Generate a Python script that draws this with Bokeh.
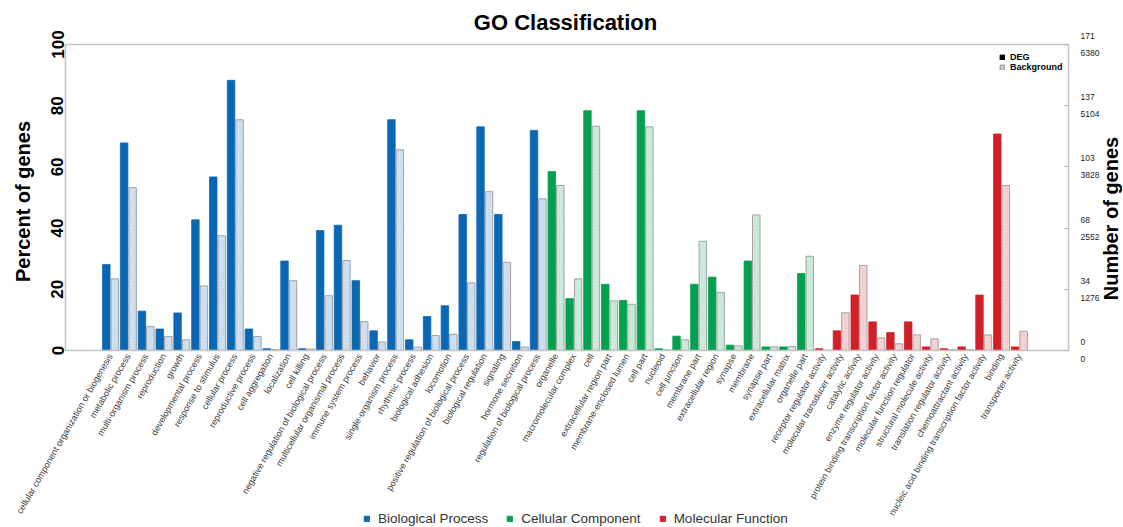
import math
from bokeh.plotting import figure
from bokeh.models import (Range1d, FixedTicker, LinearAxis, ColumnDataSource,
                          Legend, LegendItem)
from bokeh.core.properties import value
from bokeh.embed import file_html
from bokeh.resources import INLINE

# ---- GO terms per ontology -------------------------------------------------
bp_terms = [
    "cellular component organization or biogenesis", "metabolic process",
    "multi-organism process", "reproduction", "growth", "developmental process",
    "response to stimulus", "cellular process", "reproductive process",
    "cell aggregation", "localization", "cell killing",
    "negative regulation of biological process", "multicellular organismal process",
    "immune system process", "behavior", "single-organism process",
    "rhythmic process", "biological adhesion", "locomotion",
    "positive regulation of biological process", "biological regulation",
    "signaling", "hormone secretion", "regulation of biological process",
]
cc_terms = [
    "organelle", "macromolecular complex", "cell", "extracellular region part",
    "membrane-enclosed lumen", "cell part", "nucleoid", "cell junction",
    "membrane part", "extracellular region", "synapse", "membrane",
    "synapse part", "extracellular matrix", "organelle part",
]
mf_terms = [
    "receptor regulator activity", "molecular transducer activity",
    "catalytic activity", "enzyme regulator activity",
    "protein binding transcription factor activity",
    "molecular function regulator", "structural molecule activity",
    "translation regulator activity", "chemoattractant activity",
    "nucleic acid binding transcription factor activity", "binding",
    "transporter activity",
]

# ---- gene counts (DEG set and genome background) ---------------------------
deg_total = 171
bg_total = 6380

bp_deg = [48, 116, 22, 12, 21, 73, 97, 151, 12, 1, 50, 1, 67, 70, 39, 11, 129,
          6, 19, 25, 76, 125, 76, 5, 123]
bp_bg = [1493, 3394, 498, 293, 223, 1346, 2393, 4811, 293, 19, 1455, 32, 1142,
         1876, 600, 179, 4185, 70, 313, 338, 1410, 3311, 1837, 70, 3164]
cc_deg = [100, 29, 134, 37, 28, 134, 1, 8, 37, 41, 3, 50, 2, 2, 43]
cc_bg = [3439, 1493, 4677, 1034, 963, 4664, 13, 223, 2278, 1212, 96, 2826, 77,
         83, 1965]
mf_deg = [1, 11, 31, 16, 10, 16, 2, 1, 2, 31, 121, 2]
mf_bg = [6, 785, 1774, 262, 140, 325, 242, 19, 19, 325, 3439, 402]

pct_ticks = [0, 20, 40, 60, 80, 100]

groups = [
    ("Biological Process", bp_terms, bp_deg, bp_bg, "#0a67b3", "#d9e7f4", "#a9c6e0"),
    ("Cellular Component", cc_terms, cc_deg, cc_bg, "#03a04f", "#d7efe1", "#a6d8bb"),
    ("Molecular Function", mf_terms, mf_deg, mf_bg, "#d02028", "#f8dede", "#e6abab"),
]

FONT = "Liberation Sans"
GRID_GRAY = "#c4c4c4"
all_terms = bp_terms + cc_terms + mf_terms
n_terms = len(all_terms)

# ---- page geometry ---------------------------------------------------------
# The data area fills the whole page; the axes are pinned inside it so the
# title, rotated names, keys and axis titles are never cut.
W, H = 1123, 527
TOP_PX = 44                   # pixel row of 100 %
BASE_PX = 350                 # pixel row of 0 %
FIRST_PX = 110                # pixel column of the first term
STEP_PX = 17.82               # pixels per term
LEFT_PX, RIGHT_PX = 65, 1068  # pixel columns of the two value axes

px_per_pct = (BASE_PX - TOP_PX) / 100


def xdata(px):
    return (px - FIRST_PX) / STEP_PX


def ydata(py):
    return (BASE_PX - py) / px_per_pct


x_left, x_right = xdata(LEFT_PX), xdata(RIGHT_PX)

p = figure(width=W, height=H, output_backend="svg", toolbar_location=None,
           title=None,
           x_range=Range1d(xdata(0), xdata(W)),
           y_range=Range1d(ydata(H), ydata(0)),
           min_border_left=0, min_border_right=0, min_border_top=0,
           min_border_bottom=0, background_fill_color="white",
           border_fill_color="white")
p.grid.visible = False
p.outline_line_color = None

group_renderers = []
start = 0
for name, terms, deg, bg, color, light, hatch in groups:
    xs = list(range(start, start + len(terms)))
    src = ColumnDataSource(dict(
        xd=[x - 0.235 for x in xs],
        xb=[x + 0.24 for x in xs],
        deg_pct=[c / deg_total * 100 for c in deg],
        bg_pct=[c / bg_total * 100 for c in bg],
    ))
    r = p.vbar(x="xd", top="deg_pct", width=0.42, source=src, fill_color=color,
               line_color=color, line_width=0.8)
    p.vbar(x="xb", top="bg_pct", width=0.42, source=src, fill_color=light,
           line_color="#a2a2a2", line_width=1, hatch_pattern="diagonal_cross",
           hatch_color=hatch, hatch_scale=3.5, hatch_weight=0.6)
    group_renderers.append((name, r))
    start += len(terms)

# ---- chart title ------------------------------------------------------------
p.text(x=[xdata(565)], y=[ydata(22)], text=["GO Classification"],
       text_font=value(FONT), text_font_size="22px", text_font_style="bold",
       text_color="black", text_align="center", text_baseline="middle")

# ---- bottom axis on the 0 % baseline, rotated term names -------------------
xa = p.xaxis[0]
xa.fixed_location = 0
xa.bounds = (x_left, x_right)
xa.ticker = FixedTicker(ticks=list(range(n_terms)))
xa.major_label_overrides = {i: t for i, t in enumerate(all_terms)}
xa.major_label_orientation = math.pi / 3
xa.major_label_text_font = FONT
xa.major_label_text_font_size = "9px"
xa.major_label_text_color = "#3a3a3a"
xa.major_label_standoff = 4
xa.major_tick_out = 0
xa.major_tick_in = 0
xa.minor_tick_out = 0
xa.minor_tick_in = 0
xa.axis_line_color = GRID_GRAY
xa.axis_line_width = 1.5

# top edge of the box at 100 %
top_edge = LinearAxis(fixed_location=100, bounds=(x_left, x_right),
                      ticker=FixedTicker(ticks=[], minor_ticks=[]),
                      major_tick_out=0, major_tick_in=0,
                      minor_tick_out=0, minor_tick_in=0,
                      axis_line_color=GRID_GRAY, axis_line_width=1.5)
p.add_layout(top_edge, "above")

# ---- left axis: percent ----------------------------------------------------
ya = p.yaxis[0]
ya.fixed_location = x_left
ya.bounds = (0, 100)
ya.ticker = FixedTicker(ticks=pct_ticks)
ya.major_label_orientation = "vertical"
ya.major_label_text_font = FONT
ya.major_label_text_font_size = "17px"
ya.major_label_text_font_style = "bold"
ya.major_label_text_color = "black"
ya.major_label_standoff = 2
ya.major_tick_out = 0
ya.major_tick_in = 0
ya.minor_tick_out = 0
ya.minor_tick_in = 0
ya.axis_line_color = GRID_GRAY
ya.axis_line_width = 1.5

# ---- right axis: gene numbers (DEG over background) ------------------------
ra = LinearAxis(ticker=FixedTicker(ticks=pct_ticks), bounds=(0, 100),
                fixed_location=x_right)
ra.major_label_overrides = {
    t: f"{round(deg_total * t / 100)}\n{round(bg_total * t / 100)}"
    for t in pct_ticks
}
ra.major_label_text_font = FONT
ra.major_label_text_font_size = "8.5px"
ra.major_label_text_color = "#222222"
ra.major_label_text_line_height = 1.7
ra.major_label_standoff = 12
ra.major_tick_in = 4
ra.major_tick_out = 0
ra.minor_tick_in = 0
ra.minor_tick_out = 0
ra.major_tick_line_color = "#b0b0b0"
ra.axis_line_color = GRID_GRAY
ra.axis_line_width = 1.5
p.add_layout(ra, "right")

# ---- axis titles -----------------------------------------------------------
p.text(x=[xdata(22)], y=[ydata(201)], text=["Percent of genes"],
       angle=math.pi / 2, text_font=value(FONT), text_font_size="20px",
       text_font_style="bold", text_color="black", text_align="center",
       text_baseline="middle")
p.text(x=[xdata(1110)], y=[ydata(218)], text=["Number of genes"],
       angle=math.pi / 2, text_font=value(FONT), text_font_size="20px",
       text_font_style="bold", text_color="black", text_align="center",
       text_baseline="middle")

# ---- legends ---------------------------------------------------------------
key_src = ColumnDataSource(dict(x=[float("nan")], top=[float("nan")]))
deg_key = p.vbar(x="x", top="top", width=0.4, source=key_src,
                 fill_color="black", line_color="black")
bg_key = p.vbar(x="x", top="top", width=0.4, source=key_src,
                fill_color="#d4d4d4", line_color="#9a9a9a",
                hatch_pattern="diagonal_cross", hatch_color="#b4b4b4",
                hatch_scale=3, hatch_weight=0.5)

set_legend = Legend(items=[LegendItem(label="DEG", renderers=[deg_key]),
                           LegendItem(label="Background", renderers=[bg_key])],
                    location=(999, H - 72), orientation="vertical",
                    glyph_width=6, glyph_height=6, label_height=10,
                    label_standoff=5, spacing=0, padding=0, margin=0,
                    label_text_font=FONT, label_text_font_size="9px",
                    label_text_font_style="bold", label_text_color="black",
                    border_line_alpha=0, background_fill_alpha=0)
p.add_layout(set_legend)

onto_legend = Legend(items=[LegendItem(label=n, renderers=[r])
                            for n, r in group_renderers],
                     location=(363, 1), orientation="horizontal",
                     glyph_width=7, glyph_height=7, label_height=14,
                     label_standoff=8, spacing=18, padding=0, margin=0,
                     label_text_font=FONT, label_text_font_size="13.5px",
                     label_text_color="#333333",
                     border_line_alpha=0, background_fill_alpha=0)
p.add_layout(onto_legend)

open("out.html", "w").write(file_html(p, INLINE))
